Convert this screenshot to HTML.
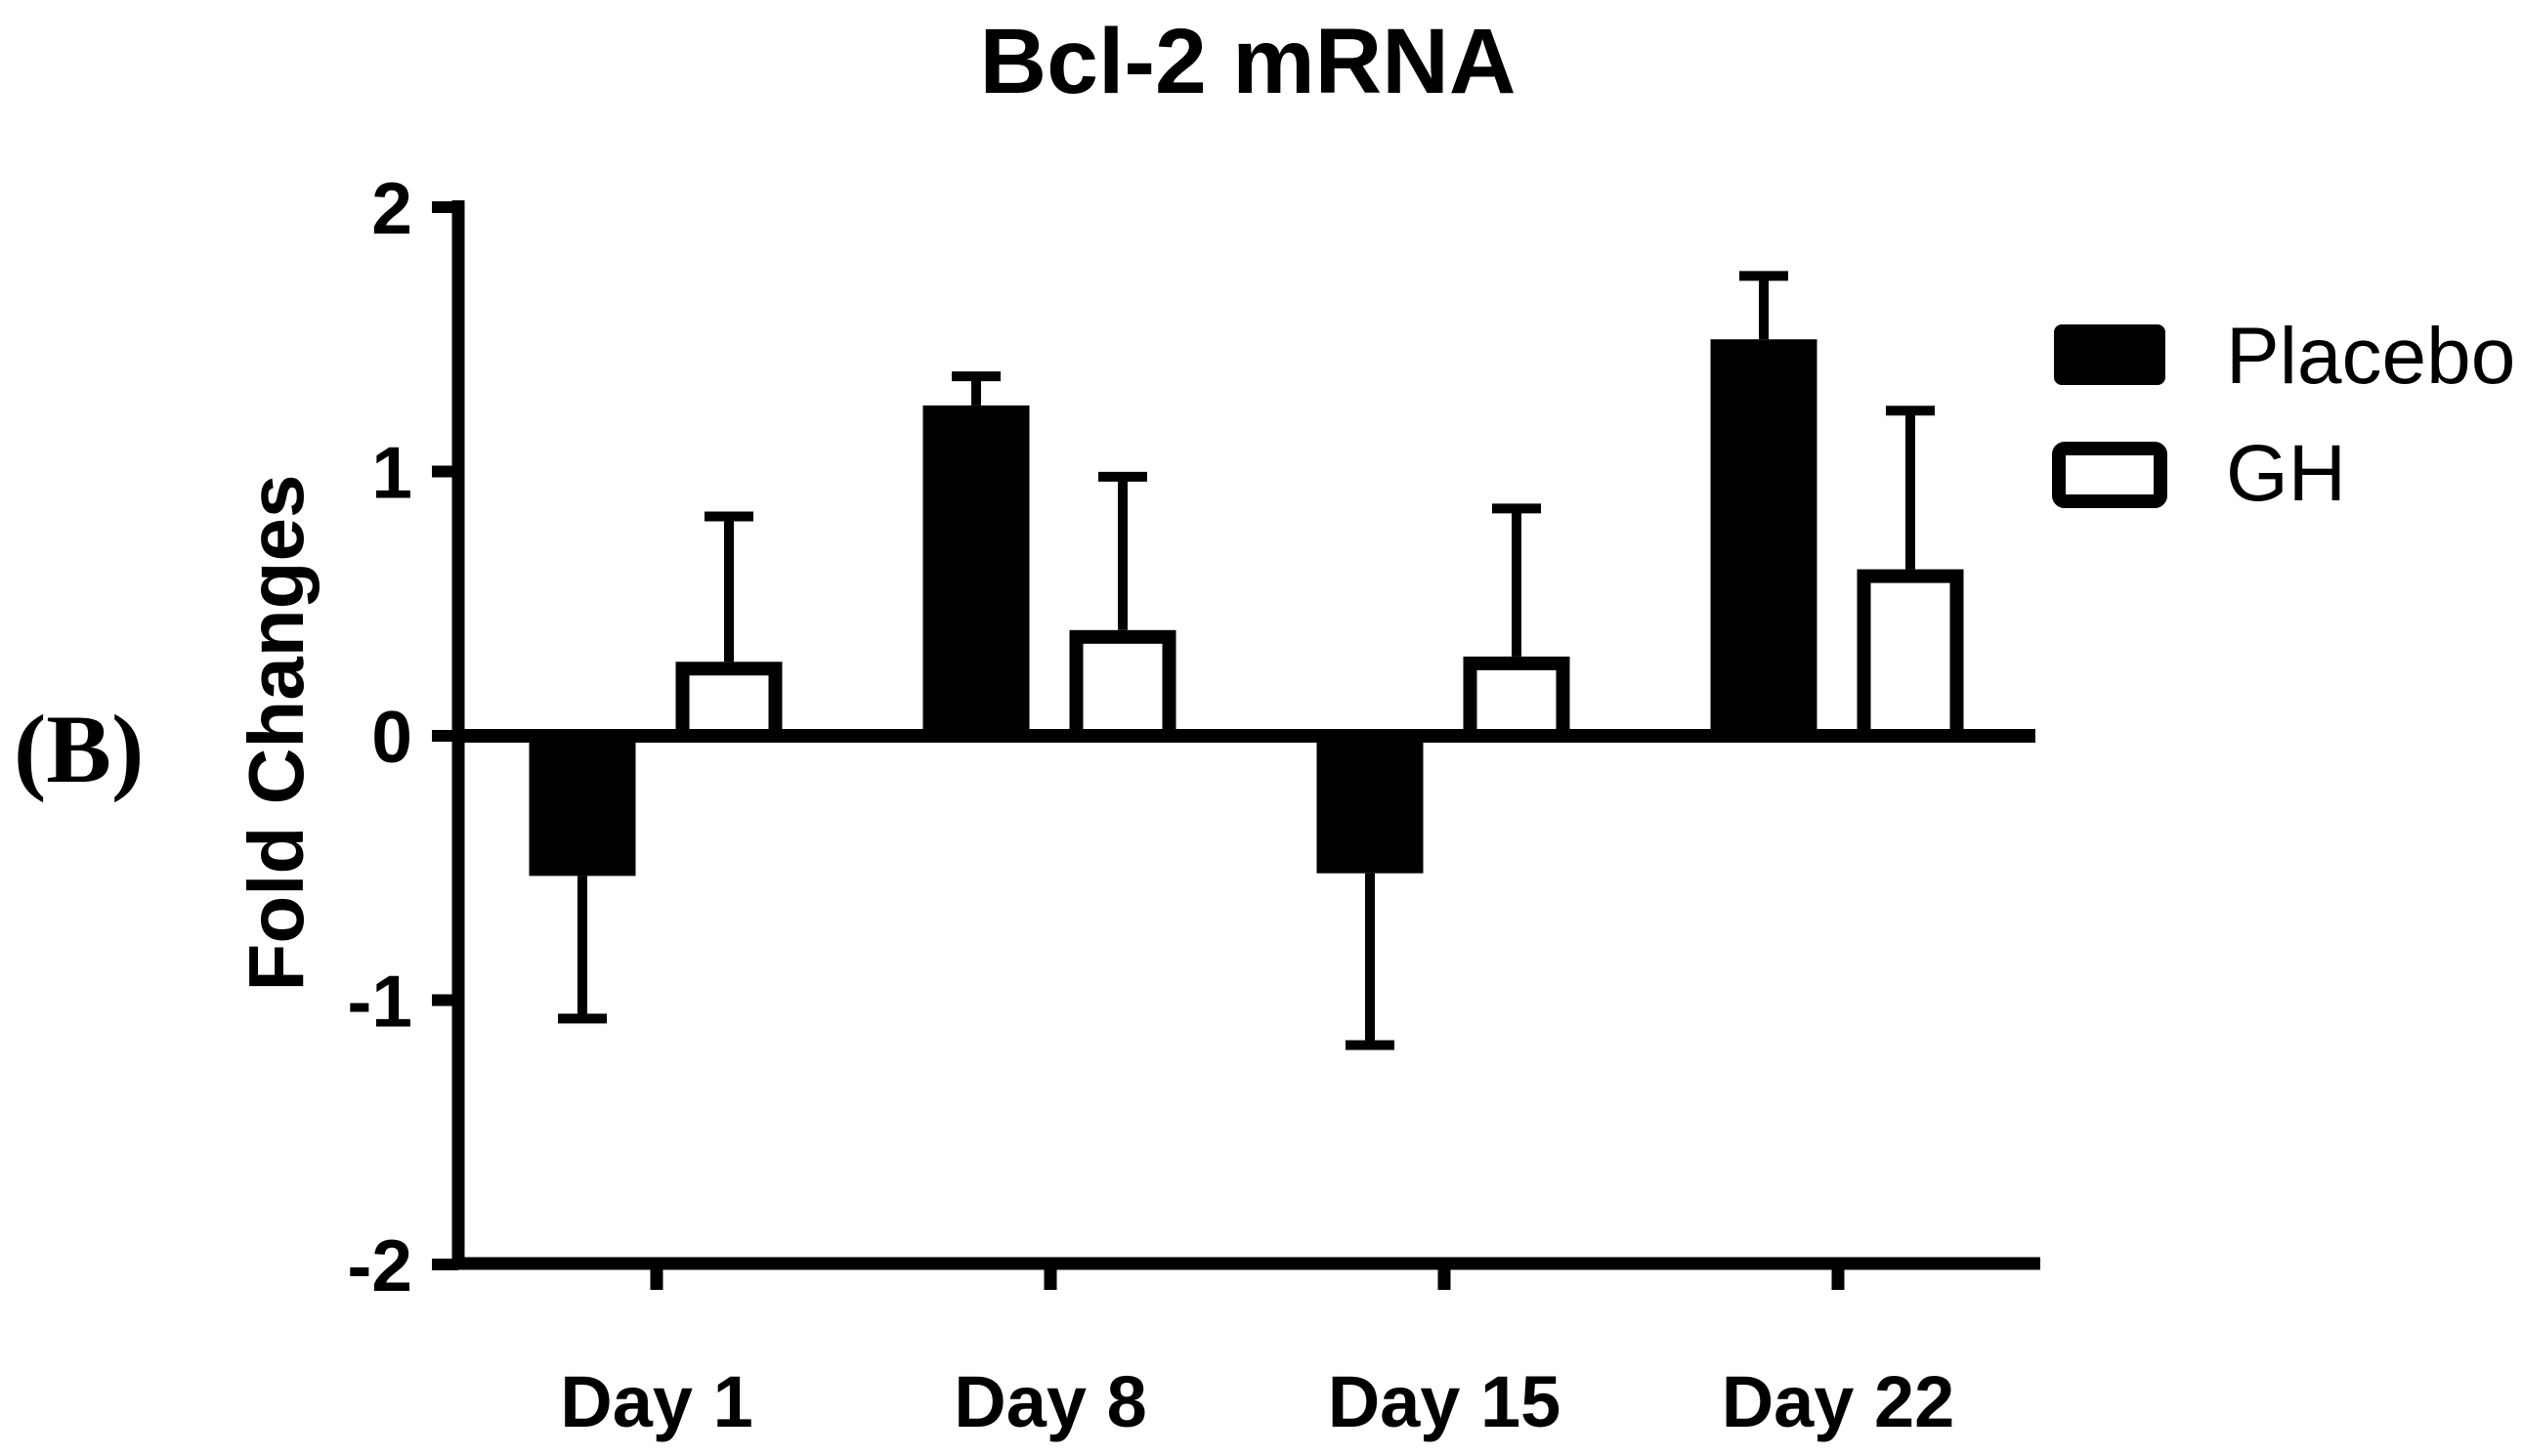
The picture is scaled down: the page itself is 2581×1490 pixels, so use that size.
<!DOCTYPE html>
<html><head><meta charset="utf-8"><style>
html,body{margin:0;padding:0;background:#fff;}
svg{display:block;font-family:"Liberation Sans",Arial,sans-serif;}
</style></head><body>
<svg id="chart" width="2581" height="1490" viewBox="0 0 2581 1490">
<text x="1277" y="95" text-anchor="middle" font-size="95" font-weight="bold">Bcl-2 mRNA</text>
<text x="14" y="800" font-family="Liberation Serif,serif" font-size="100" font-weight="bold">(B)</text>
<text transform="translate(310,750) rotate(-90)" text-anchor="middle" font-size="80" font-weight="bold">Fold Changes</text>
<g id="plot"></g>
<g>
<rect x="2102" y="332" width="114" height="62" rx="8" fill="#000"/>
<text x="2278" y="392" font-size="82">Placebo</text>
<rect x="2107" y="459" width="104" height="54" rx="6" fill="#fff" stroke="#000" stroke-width="14"/>
<text x="2278" y="512" font-size="82">GH</text>
</g>
</svg>
<script>
const categories = ["Day 1","Day 8","Day 15","Day 22"];
const placebo = [-0.53, 1.25, -0.52, 1.50];
const placeboErr = [0.54, 0.11, 0.65, 0.24];
const gh = [0.28, 0.40, 0.30, 0.63];
const ghErr = [0.55, 0.58, 0.56, 0.60];
const yTicks = [-2,-1,0,1,2];

const NS="http://www.w3.org/2000/svg";
const g=document.getElementById('plot');
const x0=469, xEnd=2088, yTop=211, yBot=1293;
const y=v=>753 - v*(yBot-yTop)/4;
const xc=i=>672 + i*403;
function mk(tag,attrs){const e=document.createElementNS(NS,tag);for(const k in attrs)e.setAttribute(k,attrs[k]);g.appendChild(e);return e;}

let el=mk('line',{x1:x0,y1:yTop-6,x2:x0,y2:yBot+6,stroke:'#000','stroke-width':13});


yTicks.forEach(t=>{
  let tk=mk('line',{x1:x0-27,y1:y(t),x2:x0,y2:y(t),stroke:'#000','stroke-width':12});
  
  
  let tl=mk('text',{x:422,y:y(t)+27,'text-anchor':'end','font-size':75,'font-weight':'bold'});
  tl.textContent=t;
  
  
});
el=mk('line',{x1:x0-6,y1:yBot,x2:xEnd,y2:yBot,stroke:'#000','stroke-width':13});



categories.forEach((c,i)=>{
  let tk=mk('line',{x1:xc(i),y1:yBot,x2:xc(i),y2:yBot+27,stroke:'#000','stroke-width':13});
  
  
  let tl=mk('text',{x:xc(i),y:1460,'text-anchor':'middle','font-size':74,'font-weight':'bold'});
  tl.textContent=c;
  
  
  const pc=xc(i)-76, bw=109;
  const pe=placebo[i]+(placebo[i]<0?-placeboErr[i]:placeboErr[i]);
  let eb=mk('line',{x1:pc,y1:y(placebo[i]),x2:pc,y2:y(pe),stroke:'#000','stroke-width':10});
  
  
  let cap=mk('line',{x1:pc-25,y1:y(pe),x2:pc+25,y2:y(pe),stroke:'#000','stroke-width':10});
  
  
  let b=mk('rect',{x:pc-bw/2,y:Math.min(y(0),y(placebo[i])),width:bw,height:Math.abs(y(placebo[i])-y(0)),fill:'#000'});
  
  
  const gc=xc(i)+74;
  const ge=gh[i]+ghErr[i];
  eb=mk('line',{x1:gc,y1:y(gh[i]),x2:gc,y2:y(ge),stroke:'#000','stroke-width':10});
  
  
  cap=mk('line',{x1:gc-25,y1:y(ge),x2:gc+25,y2:y(ge),stroke:'#000','stroke-width':10});
  
  
  b=mk('rect',{x:gc-bw/2+7,y:y(gh[i])+7,width:bw-14,height:Math.max(0,y(0)-y(gh[i])-7),fill:'#fff',stroke:'#000','stroke-width':14});
  
  
});
el=mk('line',{x1:x0,y1:y(0),x2:2083,y2:y(0),stroke:'#000','stroke-width':14});


</script>
</body></html>
